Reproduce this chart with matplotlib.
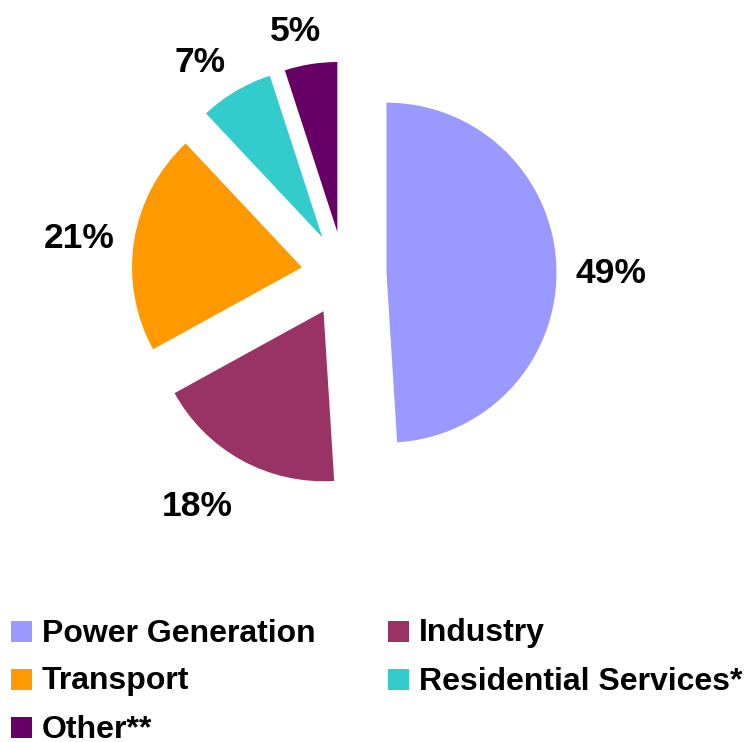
import matplotlib
matplotlib.use("Agg")
import numpy as np
import matplotlib.pyplot as plt
from matplotlib.patches import Rectangle

categories = ["Power Generation", "Industry", "Transport", "Residential Services*", "Other**"]
values = [49, 18, 21, 7, 5]
colors = ["#9999FF", "#993366", "#FF9900", "#33CCCC", "#660066"]

plt.rcParams['font.family'] = ['Liberation Sans', 'DejaVu Sans']

W, H = 755, 742
fig = plt.figure(figsize=(W / 100, H / 100), dpi=100)
ax = fig.add_axes([0, 0, 1, 1])
R = 170.0
cx, cy = 344.0, 274.0


def set_limits():
    ax.set_xlim(-cx / R, (W - cx) / R)
    ax.set_ylim(-(H - cy) / R, cy / R)
    ax.set_aspect('auto')


set_limits()
ax.axis('off')

explode = [0.25] * len(values)
wedges, texts, autotexts = ax.pie(
    values, colors=colors, explode=explode, startangle=90, counterclock=False,
    radius=1.0, autopct='%1.0f%%', pctdistance=1.3,
    textprops=dict(fontsize=25.5, fontweight='bold', color='black'),
    wedgeprops=dict(linewidth=0), frame=False)
set_limits()

# place percentage labels outside each wedge, box touching an anchor ellipse
fig.canvas.draw()
renderer = fig.canvas.get_renderer()
dx_, dy_ = 232.0 / R, 241.0 / R
cap = 26.0  # px
for w, t in zip(wedges, autotexts):
    th = np.deg2rad((w.theta1 + w.theta2) / 2)
    bb = t.get_window_extent(renderer)
    tw = bb.width
    px = dx_ * np.cos(th) + (tw / 2) * np.clip(3 * np.cos(th), -1, 1) / R
    py = dy_ * np.sin(th) + (cap / 2) * np.clip(3 * np.sin(th), -1, 1) / R
    t.set_position((px, py - (cap / 2 + 5) / R))
    t.set_ha('center')
    t.set_va('baseline')

# legend laid out row-major in two columns
col_x = [11, 388]
row_bottom0 = 641.5
row_step = 48.0
sq = 21
for i, (cat, col) in enumerate(zip(categories, colors)):
    r, c = divmod(i, 2)
    x0 = col_x[c]
    yb = row_bottom0 + r * row_step
    fig.patches.append(Rectangle((x0 / W, 1 - yb / H), sq / W, sq / H,
                                 transform=fig.transFigure, facecolor=col,
                                 edgecolor='none'))
    fig.text((x0 + 31) / W, 1 - yb / H, cat, fontsize=23, fontweight='bold',
             ha='left', va='baseline', color='black')

fig.savefig("out.png", dpi=100)
